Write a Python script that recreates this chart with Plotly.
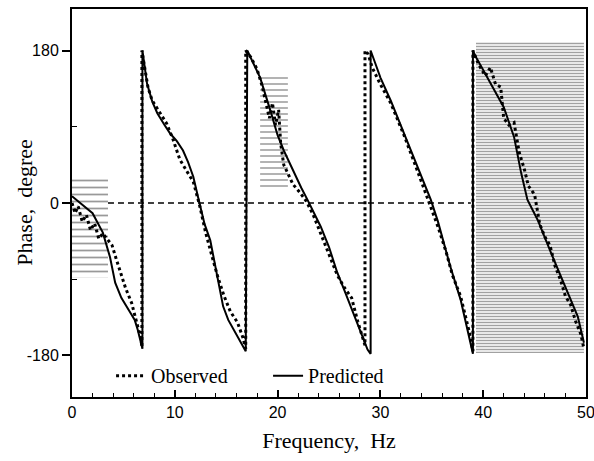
import plotly.graph_objects as go

# ---- data ----
freq_obs = [0, 0.3, 0.6, 1.0, 1.4, 1.8, 2.2, 2.6, 3.0, 3.5, 3.9, 4.3, 4.7, 5.2, 5.8, 6.3, 6.7, 6.8, 6.8,
            7.0, 7.4, 7.8, 8.5, 9.2, 9.8, 10.5, 11.2, 11.8, 12.4, 13.0, 13.6, 14.2, 14.8, 15.4, 16.1, 16.6, 16.9, 16.9,
            17.4, 18.0, 18.5, 18.9, 19.2, 19.5, 19.8, 20.1, 20.3, 20.6, 21.0, 21.5, 22.2, 22.8, 23.5, 24.2, 25.0, 25.8,
            26.5, 27.2, 27.8, 28.5, 28.5,
            28.8, 29.2, 30.0, 31.0, 32.3, 33.6, 34.6, 35.6, 36.4, 37.0, 37.8, 38.4, 38.8, 39.0, 39.0,
            39.5, 40.2, 40.7, 41.2, 41.7, 42.0, 42.5, 43.0, 43.5, 44.0, 44.4, 45.0, 45.5, 46.0, 46.5, 47.0, 47.5,
            48.0, 48.5, 49.0, 49.5, 49.8]
phase_obs = [0, -12, -4, -22, -14, -32, -24, -42, -36, -44, -50, -66, -82, -100, -118, -140, -160, -170, 180,
             165, 136, 121, 108, 94, 76, 51, 37, 25, -2, -35, -62, -88, -110, -128, -141, -158, -172, 180,
             172, 158, 138, 118, 100, 118, 92, 110, 70, 45, 34, 22, 12, 2, -15, -36, -60, -85,
             -100, -112, -140, -168, 180,
             176, 160, 140, 118, 80, 38, 5, -28, -58, -85, -110, -140, -160, -175, 180,
             165, 150, 160, 140, 137, 100, 92, 95, 60, 40, 20, 10, -25, -40, -50, -75, -90,
             -110, -120, -140, -155, -172]

freq_pred = [0, 1.0, 2.0, 3.0, 3.7, 4.2, 4.8, 5.65, 6.1, 6.4, 6.85, 6.85,
             7.3, 7.8, 8.3, 9.0, 9.55, 10.2, 10.8, 11.3, 11.8, 12.3, 12.9, 13.45, 13.75, 14.1, 14.7, 15.2, 15.7,
             16.2, 16.9, 17.05,
             17.6, 18.3, 19.3, 20.0, 20.6, 21.5, 22.3, 22.9, 24.2, 25.0, 25.8, 26.5, 27.1, 28.0, 28.75, 29.05, 29.05,
             29.5, 30.0, 31.0, 32.3, 33.6, 34.9, 35.6, 36.8, 37.8, 38.8, 39.0, 39.0,
             39.3, 40.0, 40.7, 42.0, 43.0, 43.7, 44.3, 45.3, 46.6, 48.2, 49.2, 49.8]
phase_pred = [8, -2, -12, -35, -64, -94, -112, -129, -138, -150, -172, 180,
              141, 120, 106, 92, 82, 73, 62, 48, 31, 5, -25, -44, -63, -82, -122, -138, -149,
              -160, -175, 180,
              165, 148, 109, 80, 62, 38, 18, 4, -28, -52, -82, -103, -122, -148, -173, -178, 180,
              165, 148, 121, 82, 42, 4, -22, -75, -114, -168, -178, 180,
              172, 157, 141, 113, 78, 35, 4, -20, -59, -106, -134, -165]

zero_ref_freq = [3.5, 38.8]
zero_ref_phase = [0, 0]

# stippled (uncertain) regions: frequency span and phase span
region_freq = [(0.0, 3.5), (18.3, 21.0), (39.3, 49.8)]
region_phase = [(-88, 33), (19, 153), (-177, 190)]

x_ticks = [0, 10, 20, 30, 40, 50]
y_ticks = [-180, 0, 180]

fig = go.Figure()

pattern_styles = [dict(size=7, solidity=0.25, fgcolor="#333"),
                  dict(size=6, solidity=0.25, fgcolor="#333"),
                  dict(size=3, solidity=0.5, fgcolor="#444")]
for (fx0, fx1), (py0, py1), ps in zip(region_freq, region_phase, pattern_styles):
    fig.add_trace(go.Scatter(
        x=[fx0, fx1, fx1, fx0, fx0], y=[py0, py0, py1, py1, py0],
        mode="lines", fill="toself", line=dict(width=0),
        fillcolor="rgba(0,0,0,0)",
        fillpattern=dict(shape="-", bgcolor="rgba(255,255,255,0)", **ps),
        showlegend=False, hoverinfo="skip"))

fig.add_trace(go.Scatter(x=zero_ref_freq, y=zero_ref_phase, mode="lines",
                         line=dict(color="black", width=1.6, dash="6px,4px"),
                         showlegend=False, hoverinfo="skip"))

fig.add_trace(go.Scatter(x=freq_obs, y=phase_obs, mode="lines", name="Observed",
                         line=dict(color="black", width=3, dash="dot")))
fig.add_trace(go.Scatter(x=freq_pred, y=phase_pred, mode="lines", name="Predicted",
                         line=dict(color="black", width=2)))

fig.update_layout(
    width=594, height=461,
    margin=dict(l=72, r=8, t=9, b=64, autoexpand=False),
    paper_bgcolor="white", plot_bgcolor="white",
    font=dict(family="Liberation Sans", color="black"),
    legend=dict(orientation="h", x=0.076, y=0.055, xanchor="left", yanchor="middle",
                bgcolor="rgba(0,0,0,0)", font=dict(family="Liberation Serif", size=20),
                entrywidth=112, entrywidthmode="pixels", tracegroupgap=0),
    annotations=[dict(text="Phase,  degree", textangle=-90, xref="paper", yref="paper",
                      x=-0.094, y=0.5, xanchor="center", yanchor="middle", showarrow=False,
                      font=dict(family="Liberation Serif", size=22, color="black"))],
)

fig.update_xaxes(
    range=[0, 50], tickvals=x_ticks, ticktext=[str(v) for v in x_ticks],
    showgrid=False, zeroline=False, automargin=False, ticklabeloverflow="allow",
    showline=True, linecolor="black", linewidth=2, mirror=True,
    ticks="inside", ticklen=7, tickwidth=1.5, tickcolor="black",
    minor=dict(dtick=2, ticks="inside", ticklen=4, tickwidth=1.2, tickcolor="black"),
    tickfont=dict(family="Liberation Sans", size=16),
    title=dict(text="Frequency,  Hz", font=dict(family="Liberation Serif", size=22), standoff=12),
)
fig.update_yaxes(
    range=[-229, 229], tickvals=y_ticks, ticktext=[str(v) for v in y_ticks],
    showgrid=False, zeroline=False, automargin=False,
    showline=True, linecolor="black", linewidth=2, mirror=True,
    ticks="outside", ticklen=8, tickwidth=1.5, tickcolor="black",
    minor=dict(tickvals=[-90, 90], ticks="inside", ticklen=5, tickwidth=1.2, tickcolor="black"),
    tickfont=dict(family="Liberation Sans", size=16),
)

fig.write_html("out.html", config={"displayModeBar": False},
               post_script="document.body.style.margin='0';")
